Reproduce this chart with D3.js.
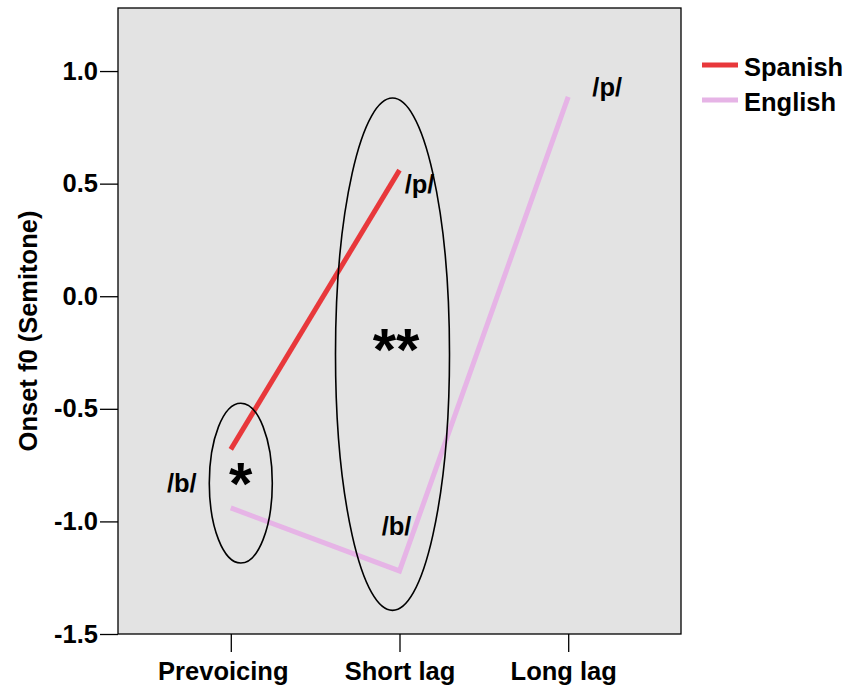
<!DOCTYPE html>
<html>
<head>
<meta charset="utf-8">
<script src="https://cdn.jsdelivr.net/npm/d3@7"></script>
<style>
  html, body { margin: 0; padding: 0; background: #ffffff; }
  svg { display: block; }
  text { font-family: "Liberation Sans", Arial, sans-serif; }
</style>
</head>
<body>
<div id="chart"></div>
<script>
// ---- data ----
const categories = ["Prevoicing", "Short lag", "Long lag"];
const seriesNames = ["Spanish", "English"];
const spanishValues = [-0.68, 0.56, null];
const englishValues = [-0.94, -1.22, 0.885];
const yTickValues = [-1.5, -1.0, -0.5, 0.0, 0.5, 1.0];
const yAxisTitle = "Onset f0 (Semitone)";
// significance groups (ellipses)
const groupCategories = ["Prevoicing", "Short lag"];
const groupTop = [-0.475, 0.88];
const groupBottom = [-1.185, -1.395];
const groupMarks = ["*", "**"];
// phoneme labels
const labelTexts = ["/b/", "/p/", "/b/", "/p/"];
const labelCategories = ["Prevoicing", "Short lag", "Short lag", "Long lag"];
const labelValues = [-0.83, 0.5, -1.02, 0.93];

// ---- layout ----
const W = 848, H = 688;
const plot = { left: 118, top: 8, right: 681, bottom: 634 };
const colors = { Spanish: "#e8383b", English: "#e6b4e6" };
const FONT = 25.5;

const svg = d3.select("#chart").append("svg")
  .attr("width", W).attr("height", H);

const x = d3.scalePoint().domain(categories)
  .range([plot.left, plot.right]).padding(0.6686);
const y = d3.scaleLinear().domain([-1.5, 1.28])
  .range([plot.bottom, plot.top]);

// background
svg.append("rect")
  .attr("x", plot.left).attr("y", plot.top)
  .attr("width", plot.right - plot.left).attr("height", plot.bottom - plot.top)
  .attr("fill", "#e3e3e3");

// y axis
const yAxis = svg.append("g")
  .attr("transform", `translate(${plot.left},0)`)
  .call(d3.axisLeft(y).tickValues(yTickValues)
    .tickFormat(d => d.toFixed(1)).tickSize(18).tickPadding(2));
yAxis.select(".domain").remove();
yAxis.selectAll("line").attr("stroke", "#000").attr("stroke-width", 1.3);
yAxis.selectAll("text").attr("font-size", FONT).attr("font-weight", "bold")
  .attr("font-family", "Liberation Sans, Arial, sans-serif").attr("fill", "#000");

// x axis
const xLabelShift = [-8, 0, -5];
const xAxis = svg.append("g")
  .attr("transform", `translate(0,${plot.bottom})`)
  .call(d3.axisBottom(x).tickSize(18).tickPadding(10));
xAxis.select(".domain").remove();
xAxis.selectAll("line").attr("stroke", "#000").attr("stroke-width", 1.3);
xAxis.selectAll("text").attr("font-size", FONT).attr("font-weight", "bold")
  .attr("font-family", "Liberation Sans, Arial, sans-serif").attr("fill", "#000")
  .attr("dx", (d, i) => xLabelShift[i]);

// y axis title
svg.append("text")
  .attr("transform", `translate(37,${(plot.top + plot.bottom) / 2 + 10}) rotate(-90)`)
  .attr("text-anchor", "middle")
  .attr("font-size", FONT).attr("font-weight", "bold")
  .text(yAxisTitle);

// series lines
const seriesData = [
  { name: "Spanish", values: spanishValues },
  { name: "English", values: englishValues }
];
const line = d3.line()
  .defined(d => d.v !== null)
  .x(d => x(d.c)).y(d => y(d.v));

seriesData.slice().reverse().forEach(s => {
  svg.append("path")
    .datum(categories.map((c, i) => ({ c, v: s.values[i] })))
    .attr("d", line)
    .attr("fill", "none")
    .attr("stroke", colors[s.name])
    .attr("stroke-width", 5)
    .attr("stroke-linejoin", "miter");
});

// group ellipses
const ellipseDx = [10, -7];
const ellipseRx = [31.5, 57];
groupCategories.forEach((c, i) => {
  const cx = x(c) + ellipseDx[i];
  const yt = y(groupTop[i]), yb = y(groupBottom[i]);
  svg.append("ellipse")
    .attr("cx", cx).attr("cy", (yt + yb) / 2)
    .attr("rx", ellipseRx[i]).attr("ry", (yb - yt) / 2)
    .attr("fill", "none").attr("stroke", "#000").attr("stroke-width", 1.6);
});

// significance marks
const markPos = [[x("Prevoicing") + 10, 504], [x("Short lag") - 3.5, 370]];
groupMarks.forEach((m, i) => {
  svg.append("text")
    .attr("x", markPos[i][0]).attr("y", markPos[i][1])
    .attr("text-anchor", "middle")
    .attr("font-size", 60).attr("font-weight", "bold")
    .text(m);
});

// phoneme labels
const labelDx = [-49, 20, -3, 39];
labelTexts.forEach((t, i) => {
  svg.append("text")
    .attr("x", x(labelCategories[i]) + labelDx[i])
    .attr("y", y(labelValues[i]) + 9)
    .attr("text-anchor", "middle")
    .attr("font-size", FONT).attr("font-weight", "bold")
    .text(t);
});

// frame
svg.append("rect")
  .attr("x", plot.left).attr("y", plot.top)
  .attr("width", plot.right - plot.left).attr("height", plot.bottom - plot.top)
  .attr("fill", "none").attr("stroke", "#000").attr("stroke-width", 1.3);

// legend
const legend = svg.append("g").attr("transform", "translate(702,65)");
seriesNames.forEach((n, i) => {
  const g = legend.append("g").attr("transform", `translate(0,${i * 35})`);
  g.append("line").attr("x1", 0).attr("x2", 36).attr("y1", 0).attr("y2", 0)
    .attr("stroke", colors[n]).attr("stroke-width", 5);
  g.append("text").attr("x", 42).attr("y", 11)
    .attr("font-size", FONT).attr("font-weight", "bold").text(n);
});
</script>
</body>
</html>
